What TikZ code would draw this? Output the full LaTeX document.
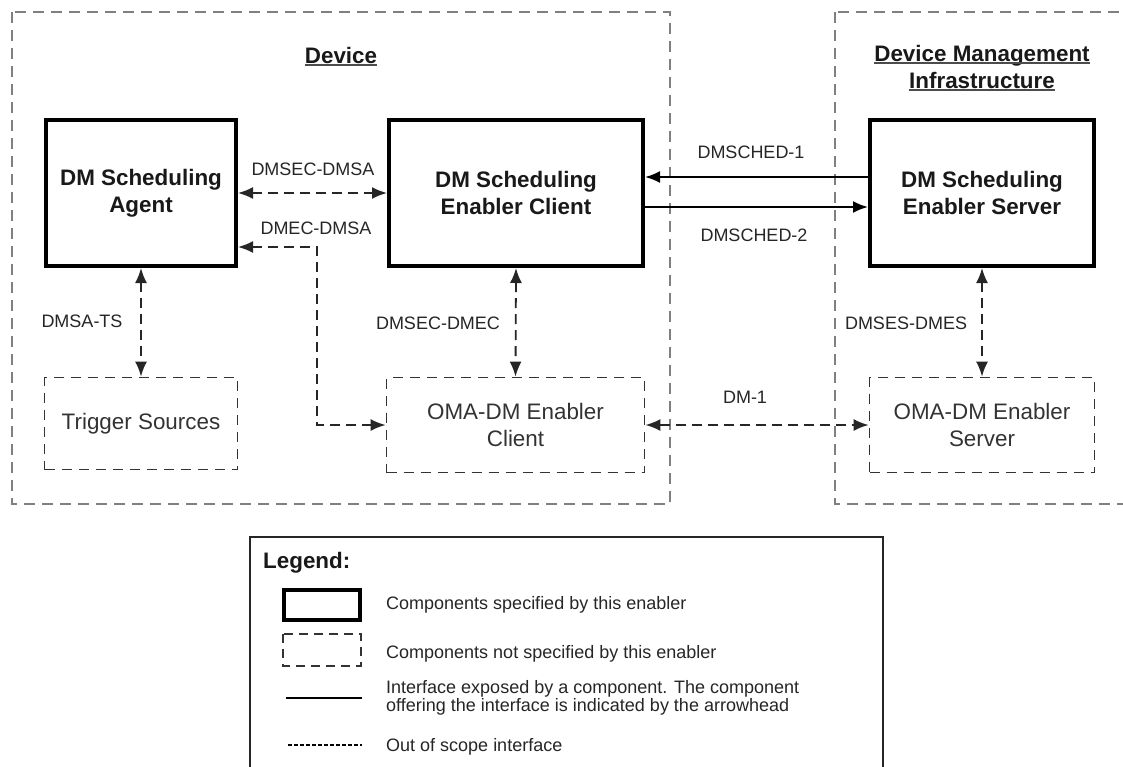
\documentclass[tikz,border=0pt]{standalone}
\usepackage{fontspec}
\setmainfont{Liberation Sans}
\usetikzlibrary{arrows.meta}
\begin{document}
\begin{tikzpicture}[x=1pt,y=-1pt,
  >={Latex[length=15pt,width=12pt]},
  spec/.style={draw=black, line width=4pt, inner sep=0pt, align=center,
    font=\fontsize{22.4}{27}\selectfont\bfseries, text=black!90},
  nspec/.style={draw=black!80, line width=1.8pt, dash pattern=on 10pt off 7pt,
    inner sep=0pt, align=center, font=\fontsize{22.4}{27}\selectfont, text=black!80},
  scopebox/.style={draw=black!50, line width=2.2pt, dash pattern=on 11pt off 7pt},
  lbl/.style={font=\fontsize{18}{20}\selectfont, text=black!85, inner sep=0pt},
  oos/.style={draw=black!85, line width=1.8pt, dash pattern=on 10pt off 6pt, <->},
  iface/.style={draw=black, line width=2pt, ->},
  title/.style={font=\fontsize{22.4}{27}\selectfont\bfseries, inner sep=0pt, text=black!90, anchor=base},
  uline/.style={draw=black!70, line width=1.8pt},
  legtxt/.style={font=\fontsize{18}{16.5}\selectfont, text=black!85, inner sep=0pt, anchor=base west, align=left}
]
\clip (0,0) rectangle (1123,766);
\fill[white] (0,0) rectangle (1123,766);

% scope boxes
\draw[scopebox] (12,12) rectangle (670,504);
\draw[scopebox] (835,12) rectangle (1160,504);

% titles
\node[title] (dev) at (341,63) {Device};
\draw[uline] ([yshift=-2pt]dev.base west) -- ([yshift=-2pt]dev.base east);
\node[title] (dmi1) at (982,61) {Device Management};
\draw[uline] ([yshift=-2pt]dmi1.base west) -- ([yshift=-2pt]dmi1.base east);
\node[title] (dmi2) at (982,88) {Infrastructure};
\draw[uline] ([yshift=-2pt]dmi2.base west) -- ([yshift=-2pt]dmi2.base east);

% components
\node[spec, minimum width=190pt, minimum height=146pt] (agent) at (141,193) {DM Scheduling\\Agent};
\node[spec, minimum width=254pt, minimum height=146pt] (client) at (516,193) {DM Scheduling\\Enabler Client};
\node[spec, minimum width=224pt, minimum height=146pt] (server) at (982,193) {DM Scheduling\\Enabler Server};
\node[nspec, minimum width=193pt, minimum height=92pt] (trig) at (141,423.5) {Trigger Sources};
\node[nspec, minimum width=258pt, minimum height=95pt] (omac) at (515.5,425) {OMA-DM Enabler\\Client};
\node[nspec, minimum width=225pt, minimum height=95pt] (omas) at (982,425) {OMA-DM Enabler\\Server};

% connectors
\draw[oos] (agent.east) -- (client.west);
\draw[oos] ([yshift=-54pt]agent.east) -- ++(79,0) |- (omac.west);
\draw[oos] (agent.south) -- (trig.north);
\draw[oos] (client.south) -- (omac.north);
\draw[iface] ([yshift=16pt]server.west) -- ([yshift=16pt]client.east);
\draw[iface] ([yshift=-14pt]client.east) -- ([yshift=-14pt]server.west);
\draw[oos] (omac.east) -- (omas.west);
\draw[oos] (server.south) -- (omas.north);

% labels
\node[lbl] (l1) at (313,169) {DMSEC-DMSA};
\node[lbl] (l2) at (316,228) {DMEC-DMSA};
\node[lbl] (l3) at (82,321) {DMSA-TS};
\node[lbl] (l4) at (438,323) {DMSEC-DMEC};
\node[lbl] (l5) at (751,152) {DMSCHED-1};
\node[lbl] (l6) at (754,235) {DMSCHED-2};
\node[lbl] (l7) at (745,397) {DM-1};
\node[lbl] (l8) at (906,323) {DMSES-DMES};

% legend
\draw[draw=black!85, line width=2pt] (250,537) rectangle (883,800);
\node[title, anchor=base west] (leg) at (263,568) {Legend:};
\draw[line width=4pt] (284,590) rectangle (360,620);
\draw[draw=black!80, line width=1.5pt, dash pattern=on 9pt off 6pt] (283,634) rectangle (361,666);
\draw[line width=2.5pt] (286,698) -- (362,698);
\draw[line width=2.5pt, dash pattern=on 4pt off 2pt] (288,745) -- (362,745);
\node[legtxt] (t1) at (386,609) {Components specified by this enabler};
\node[legtxt] (t2) at (386,658) {Components not specified by this enabler};
\node[legtxt, anchor=west] (t3) at (386,698) {Interface exposed by a component. The component\\offering the interface is indicated by the arrowhead};
\node[legtxt] (t4) at (386,751) {Out of scope interface};
\end{tikzpicture}
\end{document}
